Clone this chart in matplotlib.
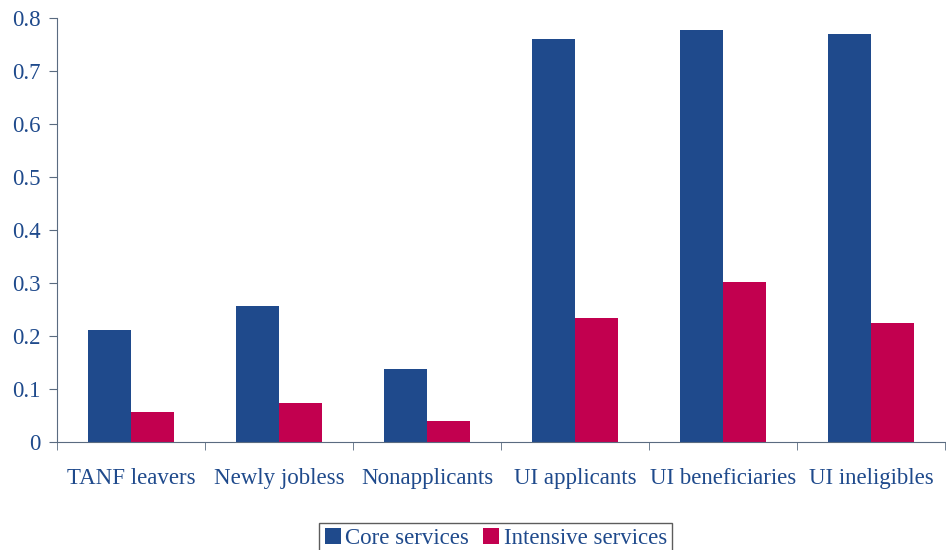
import numpy as np
import matplotlib.pyplot as plt

categories = ['TANF leavers', 'Newly jobless', 'Nonapplicants',
              'UI applicants', 'UI beneficiaries', 'UI ineligibles']
core = [0.211, 0.257, 0.138, 0.760, 0.777, 0.770]
intensive = [0.057, 0.074, 0.040, 0.234, 0.302, 0.225]

text_color = '#1F4A8C'
axis_color = '#5A6B80'

plt.rcParams['font.family'] = ['Liberation Serif', 'DejaVu Serif']

fig = plt.figure(figsize=(9.46, 5.5), dpi=100)
ax = fig.add_axes([57 / 946, 108 / 550, 888 / 946, 424 / 550])

x = np.arange(len(categories))
w = 0.29
ax.bar(x - w / 2, core, w, color='#1F4A8C', label='Core services')
ax.bar(x + w / 2, intensive, w, color='#C2004F', label='Intensive services')

ax.set_xlim(-0.5, len(categories) - 0.5)
ax.set_ylim(0, 0.8)
ax.set_yticks(np.arange(0, 0.81, 0.1))
ax.set_yticklabels(['0'] + ['%.1f' % v for v in np.arange(0.1, 0.81, 0.1)])

# category labels centred, ticks between groups
ax.set_xticks(x)
ax.set_xticklabels(categories)
ax.set_xticks(np.arange(-0.5, len(categories)), minor=True)
ax.tick_params(axis='x', which='major', length=0, pad=19)
ax.tick_params(axis='x', which='minor', length=6, color=axis_color)
ax.tick_params(axis='y', length=6, color=axis_color, pad=6)
ax.tick_params(labelsize=16.5, labelcolor=text_color)

for side in ['top', 'right']:
    ax.spines[side].set_visible(False)
for side in ['left', 'bottom']:
    ax.spines[side].set_color(axis_color)

leg = fig.legend(loc='lower center', bbox_to_anchor=(0.524, -0.03), ncol=2,
                 fontsize=16.5, frameon=True, fancybox=False, edgecolor='#333333',
                 handlelength=0.7, handleheight=0.7, handletextpad=0.2,
                 columnspacing=0.6, borderpad=0.25)
for t in leg.get_texts():
    t.set_color(text_color)

plt.savefig('out.png')
